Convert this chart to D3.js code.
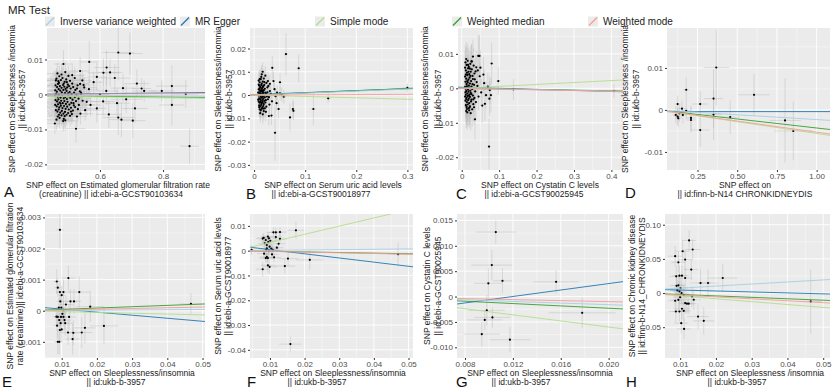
<!DOCTYPE html>
<html>
<head>
<meta charset="UTF-8">
<title>MR Test</title>
<script src="https://d3js.org/d3.v7.min.js"></script>
<style>
  body { margin: 0; background: #fff; }
  text { font-family: "Liberation Sans", Arial, sans-serif; }
</style>
</head>
<body>
<svg width="840" height="389"></svg>
<script>
// methods, in legend order
const methods = ["Inverse variance weighted", "MR Egger", "Simple mode", "Weighted median", "Weighted mode"];
const methodColors = ["#a6cee3", "#1f78b4", "#b2df8a", "#33a02c", "#fb9a99"];
// draw order of the fitted lines (egger, median, ivw, simple, mode)
const lineOrder = [1, 3, 0, 2, 4];

// each SNP: [beta exposure, beta outcome, se exposure, se outcome]
const snpA = [
  [0.462,0.0045,.03,.003],[0.468,0.0038,.04,.003],[0.471,0.0052,.03,.003],[0.476,0.0041,.05,.003],[0.481,0.0047,.04,.003],[0.488,0.0036,.03,.003],[0.493,0.0043,.05,.003],[0.505,0.0039,.04,.003],[0.512,0.0031,.05,.003],[0.498,0.0028,.03,.003],
  [0.459,0.0026,.03,.002],[0.464,0.0021,.04,.002],[0.467,0.0030,.03,.002],[0.473,0.0024,.04,.002],[0.478,0.0019,.03,.002],[0.483,0.0027,.05,.002],[0.487,0.0022,.04,.002],[0.491,0.0016,.03,.002],[0.496,0.0020,.04,.002],[0.502,0.0024,.05,.002],
  [0.507,0.0017,.03,.002],[0.515,0.0021,.04,.002],[0.522,0.0013,.05,.002],[0.529,0.0026,.03,.002],[0.536,0.0009,.04,.002],[0.458,0.0012,.03,.002],[0.463,0.0008,.04,.002],[0.469,0.0015,.03,.002],[0.474,0.0011,.04,.002],[0.479,0.0006,.03,.002],
  [0.484,0.0013,.04,.002],[0.489,0.0004,.03,.002],[0.494,0.0010,.05,.002],[0.499,0.0003,.04,.002],[0.504,0.0007,.03,.002],[0.510,0.0001,.04,.002],[0.518,0.0005,.03,.002],[0.526,-0.0002,.05,.002],[0.457,-0.0003,.03,.002],[0.461,0.0001,.04,.002],
  [0.466,-0.0006,.03,.002],[0.470,-0.0001,.04,.002],[0.475,-0.0009,.03,.002],[0.480,-0.0004,.04,.002],[0.485,-0.0011,.05,.002],[0.490,-0.0007,.03,.002],[0.495,-0.0013,.04,.002],[0.500,-0.0005,.03,.002],[0.506,-0.0010,.04,.002],[0.513,-0.0015,.05,.002],
  [0.520,-0.0008,.03,.002],[0.532,-0.0012,.04,.002],[0.459,-0.0016,.03,.002],[0.464,-0.0020,.04,.002],[0.468,-0.0014,.03,.002],[0.472,-0.0023,.04,.002],[0.477,-0.0018,.03,.002],[0.482,-0.0025,.05,.002],[0.487,-0.0019,.04,.002],[0.492,-0.0027,.03,.002],
  [0.497,-0.0021,.04,.002],[0.503,-0.0029,.03,.002],[0.509,-0.0024,.05,.002],[0.517,-0.0031,.04,.002],[0.524,-0.0019,.03,.002],[0.458,-0.0030,.03,.003],[0.463,-0.0034,.04,.003],[0.467,-0.0028,.03,.003],[0.471,-0.0037,.04,.003],[0.476,-0.0032,.03,.003],
  [0.481,-0.0039,.05,.003],[0.486,-0.0033,.04,.003],[0.491,-0.0041,.03,.003],[0.496,-0.0035,.04,.003],[0.501,-0.0043,.03,.003],[0.508,-0.0038,.05,.003],[0.514,-0.0046,.04,.003],[0.521,-0.0036,.03,.003],[0.530,-0.0042,.04,.003],[0.460,-0.0045,.03,.003],
  [0.465,-0.0049,.04,.003],[0.469,-0.0043,.03,.003],[0.474,-0.0052,.04,.003],[0.479,-0.0047,.03,.003],[0.484,-0.0055,.05,.003],[0.489,-0.0050,.04,.003],[0.494,-0.0058,.03,.003],[0.499,-0.0053,.04,.003],[0.505,-0.0061,.03,.003],[0.511,-0.0056,.05,.003],
  [0.466,-0.0063,.04,.003],[0.472,-0.0067,.03,.003],[0.478,-0.0060,.04,.003],[0.485,-0.0070,.03,.003],[0.462,-0.0072,.04,.003],[0.483,-0.0076,.05,.003],[0.465,0.0060,.04,.003],[0.478,0.0057,.03,.003],[0.490,0.0064,.04,.003],[0.500,0.0053,.05,.003],
  [0.470,0.0033,.03,.002],[0.485,0.0031,.04,.002],[0.475,-0.0026,.03,.002],[0.495,0.0035,.04,.002],[0.460,0.0040,.03,.003],[0.488,-0.0062,.03,.003],[0.470,-0.0058,.04,.003],[0.508,-0.0049,.03,.003],[0.516,-0.0025,.04,.002],[0.527,0.0017,.03,.002],
  [0.533,-0.0030,.05,.003],[0.540,0.0002,.04,.002],[0.545,-0.0018,.03,.002],[0.548,0.0027,.04,.002],[0.553,-0.0045,.05,.003],[0.538,-0.0055,.04,.003],[0.544,0.0040,.03,.003],[0.520,0.0047,.04,.003],[0.527,-0.0063,.03,.003],[0.512,0.0055,.04,.003],
  [0.658,0.012,.05,.008],[0.695,0.0117,.04,.006],[0.566,0.0093,.03,.006],[0.484,0.0087,.03,.004],[0.621,0.0077,.04,.005],[0.611,0.0062,.05,.004],[0.632,0.0063,.04,.004],[0.59,0.005,.03,.004],[0.647,0.0047,.05,.004],[0.717,0.0031,.04,.004],
  [0.732,0.0017,.03,.003],[0.796,0.001,.04,.003],[0.828,0.0024,.05,.006],[0.872,0.0001,.04,.004],[0.828,-0.003,.04,.006],[0.884,-0.0148,.03,.005],[0.524,-0.0098,.03,.004],[0.704,-0.0075,.04,.005],[0.658,-0.0066,.05,.005],[0.668,-0.0072,.04,.005],
  [0.628,-0.0057,.04,.004],[0.59,-0.004,.03,.004],[0.457,-0.0083,.03,.003],[0.49,-0.0074,.03,.003],[0.558,-0.0021,.04,.004],[0.683,-0.0014,.05,.004],[0.711,-0.004,.04,.004],[0.654,-0.0025,.04,.004],[0.6,0.0,.03,.004],[0.55,0.002,.04,.003],
  [0.537,0.003,.03,.003],[0.58,0.0035,.03,.003],[0.673,0.0018,.04,.004],[0.74,0.001,.04,.003],[0.537,0.0067,.03,.004],[0.54,0.0005,.03,.003],[0.57,-0.003,.03,.003],[0.61,-0.002,.04,.004],[0.565,0.0015,.03,.003],[0.62,0.001,.04,.004]
];
const snpB = [
  [0.009,0.0062,.003,.004],[0.011,0.0055,.003,.004],[0.013,0.0068,.002,.004],[0.015,0.0049,.003,.004],[0.017,0.0058,.003,.004],[0.020,0.0044,.004,.004],[0.024,0.0052,.003,.004],[0.028,0.0039,.004,.004],[0.010,0.0041,.002,.003],[0.012,0.0035,.003,.003],
  [0.014,0.0043,.002,.003],[0.016,0.0031,.003,.003],[0.018,0.0038,.003,.003],[0.021,0.0027,.004,.003],[0.026,0.0033,.003,.003],[0.009,0.0024,.002,.003],[0.011,0.0029,.003,.003],[0.013,0.0018,.002,.003],[0.015,0.0026,.003,.003],[0.017,0.0014,.003,.003],
  [0.019,0.0021,.003,.003],[0.022,0.0011,.004,.003],[0.031,0.0017,.003,.003],[0.010,0.0012,.002,.003],[0.012,0.0007,.002,.003],[0.014,0.0015,.003,.003],[0.016,0.0004,.003,.003],[0.018,0.0009,.003,.003],[0.020,0.0001,.003,.003],[0.023,0.0006,.004,.003],
  [0.009,-0.0002,.002,.003],[0.011,0.0002,.002,.003],[0.013,-0.0005,.003,.003],[0.015,-0.0001,.003,.003],[0.017,-0.0008,.003,.003],[0.019,-0.0003,.003,.003],[0.021,-0.0010,.004,.003],[0.025,-0.0006,.003,.003],[0.010,-0.0014,.002,.003],[0.012,-0.0019,.002,.003],
  [0.014,-0.0012,.003,.003],[0.016,-0.0022,.003,.003],[0.018,-0.0016,.003,.003],[0.020,-0.0025,.003,.003],[0.027,-0.0018,.004,.003],[0.009,-0.0028,.002,.003],[0.011,-0.0033,.002,.003],[0.013,-0.0026,.003,.003],[0.015,-0.0036,.003,.003],[0.017,-0.0030,.003,.003],
  [0.019,-0.0039,.003,.004],[0.022,-0.0032,.004,.004],[0.030,-0.0041,.003,.004],[0.010,-0.0044,.002,.004],[0.012,-0.0049,.003,.004],[0.014,-0.0042,.003,.004],[0.016,-0.0053,.003,.004],[0.018,-0.0047,.003,.004],[0.021,-0.0057,.004,.004],[0.024,-0.0050,.003,.004],
  [0.011,-0.0061,.002,.004],[0.013,-0.0066,.003,.004],[0.015,-0.0059,.003,.004],[0.019,-0.0069,.003,.004],[0.023,-0.0072,.004,.004],[0.012,-0.0078,.003,.004],[0.017,-0.0083,.003,.004],[0.014,0.0078,.003,.004],[0.019,0.0071,.003,.004],[0.022,0.0083,.003,.004],
  [0.008,0.0010,.002,.003],[0.008,-0.0020,.002,.003],[0.009,0.0045,.002,.003],[0.010,-0.0052,.002,.004],[0.012,0.0020,.002,.003],[0.013,0.0004,.002,.003],[0.014,-0.0032,.003,.003],[0.016,0.0019,.003,.003],[0.017,0.0035,.003,.003],[0.018,-0.0058,.003,.004],
  [0.020,0.0056,.003,.004],[0.023,-0.0022,.004,.003],[0.026,0.0012,.003,.003],[0.029,-0.0009,.004,.003],[0.033,0.0005,.003,.003],[0.035,-0.0027,.004,.003],[0.027,0.0060,.003,.004],[0.031,0.0048,.003,.004],[0.011,0.0068,.002,.004],[0.015,0.0089,.003,.004],
  [0.0624,0.0176,.004,.009],[0.0873,0.0115,.004,.006],[0.041,-0.0162,.003,.012],[0.3,0.0031,.01,.002],[0.145,-0.0014,.006,.002],[0.116,-0.006,.005,.007],[0.0703,-0.0096,.004,.006],[0.077,-0.0068,.004,.004],[0.076,-0.006,.004,.004],[0.0507,0.0007,.004,.003],
  [0.054,0.0003,.004,.003],[0.0507,0.0055,.004,.004],[0.0356,0.0117,.003,.005],[0.0168,0.01,.003,.004],[0.048,-0.006,.004,.004],[0.034,-0.0088,.003,.004],[0.029,-0.009,.003,.004],[0.058,-0.0007,.005,.003],[0.04,0.0025,.003,.003],[0.044,-0.0035,.004,.003],
  [0.038,0.006,.003,.004],[0.045,0.001,.004,.003],[0.042,-0.0005,.003,.003]
];
const snpC = [
  [0.010,0.0075,.003,.005],[0.013,0.0068,.004,.005],[0.016,0.0080,.003,.005],[0.019,0.0062,.004,.005],[0.023,0.0071,.004,.005],[0.027,0.0055,.005,.005],[0.032,0.0066,.004,.005],[0.037,0.0049,.005,.005],[0.011,0.0052,.003,.004],[0.014,0.0045,.003,.004],
  [0.017,0.0058,.004,.004],[0.020,0.0041,.004,.004],[0.024,0.0048,.004,.004],[0.029,0.0036,.005,.004],[0.034,0.0043,.004,.004],[0.009,0.0034,.003,.004],[0.012,0.0028,.003,.004],[0.015,0.0038,.003,.004],[0.018,0.0025,.004,.004],[0.021,0.0031,.004,.004],
  [0.025,0.0021,.004,.004],[0.030,0.0027,.005,.004],[0.040,0.0018,.005,.004],[0.010,0.0019,.003,.004],[0.013,0.0012,.003,.004],[0.016,0.0017,.003,.004],[0.019,0.0008,.004,.004],[0.022,0.0014,.004,.004],[0.026,0.0005,.004,.004],[0.033,0.0010,.005,.004],
  [0.009,0.0004,.003,.004],[0.011,-0.0001,.003,.004],[0.014,0.0006,.003,.004],[0.017,-0.0004,.003,.004],[0.020,0.0002,.004,.004],[0.023,-0.0007,.004,.004],[0.028,-0.0002,.004,.004],[0.036,-0.0009,.005,.004],[0.010,-0.0012,.003,.004],[0.012,-0.0008,.003,.004],
  [0.015,-0.0015,.003,.004],[0.018,-0.0010,.004,.004],[0.021,-0.0018,.004,.004],[0.024,-0.0013,.004,.004],[0.030,-0.0021,.005,.004],[0.009,-0.0024,.003,.004],[0.011,-0.0019,.003,.004],[0.013,-0.0027,.003,.004],[0.016,-0.0022,.003,.004],[0.019,-0.0030,.004,.004],
  [0.022,-0.0025,.004,.004],[0.026,-0.0033,.004,.004],[0.034,-0.0028,.005,.004],[0.010,-0.0036,.003,.005],[0.012,-0.0031,.003,.005],[0.014,-0.0040,.003,.005],[0.017,-0.0034,.004,.005],[0.020,-0.0043,.004,.005],[0.025,-0.0038,.004,.005],[0.031,-0.0046,.005,.005],
  [0.011,-0.0049,.003,.005],[0.013,-0.0054,.003,.005],[0.016,-0.0047,.003,.005],[0.018,-0.0058,.004,.005],[0.022,-0.0052,.004,.005],[0.028,-0.0061,.004,.005],[0.012,-0.0066,.003,.005],[0.015,-0.0070,.003,.005],[0.020,-0.0064,.004,.005],[0.024,-0.0072,.004,.005],
  [0.009,0.0060,.003,.005],[0.012,0.0085,.003,.005],[0.015,0.0021,.003,.004],[0.018,0.0048,.004,.004],[0.021,-0.0056,.004,.005],[0.023,0.0036,.004,.004],[0.026,-0.0017,.004,.004],[0.029,0.0012,.005,.004],[0.031,-0.0032,.005,.004],[0.035,0.0026,.005,.004],
  [0.038,-0.0040,.005,.005],[0.042,0.0007,.005,.004],[0.045,-0.0024,.006,.004],[0.048,0.0035,.006,.004],[0.052,-0.0012,.006,.004],[0.039,0.0061,.005,.005],[0.043,0.0052,.005,.005],[0.027,0.0078,.004,.005],[0.033,-0.0055,.005,.005],[0.014,-0.0060,.003,.005],
  [0.016,0.0001,.003,.004],[0.019,-0.0021,.004,.004],[0.022,0.0057,.004,.005],[0.011,0.0040,.003,.004],[0.017,0.0068,.004,.005],
  [0.073,-0.0169,.005,.008],[0.0355,-0.009,.004,.006],[0.08,0.0072,.005,.006],[0.0978,0.0021,.006,.004],[0.138,-0.0003,.008,.003],[0.407,-0.0008,.01,.002],[0.07,0.0005,.005,.004],[0.075,-0.0005,.005,.004],[0.074,-0.003,.005,.005],[0.055,-0.005,.005,.005],
  [0.0444,0.0094,.004,.006],[0.0474,0.0094,.004,.006],[0.03,0.0092,.004,.005],[0.026,0.0078,.004,.005],[0.06,0.0015,.005,.004],[0.065,-0.002,.005,.004],[0.078,-0.002,.005,.005],[0.058,0.004,.005,.005],[0.05,0.006,.005,.005],[0.062,-0.0045,.005,.005]
];
const snpD = [
  [0.368,0.0101,.08,.009],[0.179,0.0048,.02,.003],[0.351,0.0027,.06,.007],[0.606,0.0036,.1,.005],[0.125,0.0014,.02,.002],[0.267,0.0014,.05,.003],[0.152,0.0003,.03,.002],[0.179,-0.0002,.03,.002],[0.137,-0.0008,.02,.002],[0.158,-0.0012,.02,.002],
  [0.125,-0.0016,.02,.002],[0.129,-0.002,.02,.002],[0.113,-0.0012,.02,.002],[0.209,-0.0019,.03,.003],[0.209,-0.0024,.03,.003],[0.351,-0.0011,.05,.006],[0.456,-0.0017,.06,.004],[0.267,-0.0048,.06,.004],[0.801,-0.0025,.1,.01],[0.853,-0.005,.12,.007]
];
const snpE = [
  [0.0095,0.0026,.001,.0006],[0.0086,0.00094,.001,.0004],[0.0119,0.00105,.002,.0004],[0.0089,0.00074,.001,.0003],[0.0095,0.0006,.001,.0003],[0.0100,0.0005,.001,.0003],[0.0105,0.0006,.002,.0004],[0.015,0.0006,.003,.0005],[0.0125,0.0003,.002,.0004],[0.0135,0.0003,.002,.0004],
  [0.0096,0.0003,.001,.0003],[0.0099,0.0001,.001,.0003],[0.0105,0.0,.001,.0003],[0.0102,-0.0001,.001,.0003],[0.0098,-0.0002,.001,.0003],[0.0181,0.00013,.004,.0005],[0.0467,0.00022,.0033,.00035],[0.0085,-0.00019,.001,.0003],[0.0089,-0.0002,.001,.0003],[0.0093,-0.0003,.001,.0003],
  [0.0105,-0.0002,.002,.0003],[0.0108,-0.0003,.002,.0003],[0.0087,-0.00048,.001,.0004],[0.0095,-0.00062,.001,.0004],[0.010,-0.0006,.001,.0004],[0.0118,-0.0007,.002,.0004],[0.0166,-0.00055,.003,.0005],[0.0220,-0.00049,.004,.0006],[0.0157,-0.0007,.003,.0005],[0.0133,-0.00071,.002,.0004],
  [0.0131,-0.00091,.002,.0005],[0.0089,-0.001,.001,.0004],[0.0093,-0.001,.001,.0004],[0.0110,-0.0004,.002,.0004],[0.0092,0.0001,.001,.0003],[0.0097,-0.0004,.001,.0003],[0.0112,0.0002,.002,.0003],[0.0121,-0.0002,.002,.0004]
];
const snpF = [
  [0.0175,0.0082,.0024,.0035],[0.0129,0.0075,.002,.002],[0.0117,0.0074,.002,.002],[0.011,0.0074,.002,.002],[0.0117,0.0055,.002,.002],[0.0129,0.0048,.002,.002],[0.0079,0.0049,.002,.002],[0.0082,0.0052,.002,.002],[0.0088,0.0043,.002,.002],[0.0094,0.0057,.002,.002],
  [0.0097,0.0050,.002,.002],[0.0101,0.0040,.002,.002],[0.0085,0.0030,.002,.002],[0.0091,0.0023,.002,.002],[0.0099,0.0016,.002,.002],[0.0091,0.0009,.002,.002],[0.0089,0.0003,.002,.002],[0.0104,0.0008,.002,.002],[0.0108,0.0003,.002,.002],[0.0097,-0.0002,.002,.002],
  [0.0047,0.0003,.001,.002],[0.0091,-0.0025,.002,.002],[0.0088,-0.0030,.002,.002],[0.0094,-0.0030,.002,.002],[0.0112,-0.0027,.002,.002],[0.0152,-0.0032,.003,.003],[0.0215,-0.0037,.004,.004],[0.0079,-0.0075,.002,.003],[0.0094,-0.0059,.002,.003],[0.0099,-0.0065,.002,.003],
  [0.0143,-0.0062,.003,.003],[0.0470,-0.0014,.003,.0048],[0.0159,-0.0377,.0033,.003],[0.0120,0.0012,.002,.002],[0.0083,-0.0012,.002,.002],[0.0106,-0.0015,.002,.002],[0.0125,0.0028,.002,.002],[0.0095,0.0035,.002,.002]
];
const snpG = [
  [0.01057,0.0127,.0017,.0023],[0.01024,0.0062,.0017,.003],[0.01113,0.0031,.0008,.0025],[0.00995,0.0026,.0012,.003],[0.01561,0.0029,.0019,.0023],[0.00982,-0.0027,.0015,.003],
  [0.01779,-0.0032,.0028,.003],[0.00965,-0.0046,.0015,.002],[0.01029,-0.0041,.0015,.002],[0.0094,-0.0074,.0015,.0025],[0.01175,-0.0085,.0017,.0025]
];
const snpH = [
  [0.0125,0.077,.002,.015],[0.0135,0.0637,.002,.015],[0.0107,0.0612,.002,.015],[0.0086,0.0539,.002,.015],[0.0114,0.049,.002,.015],[0.0095,0.045,.002,.015],[0.0131,0.0343,.002,.015],[0.0105,0.0254,.002,.015],[0.0089,0.0245,.002,.015],[0.0098,0.0254,.002,.015],
  [0.0114,0.022,.002,.015],[0.0219,0.022,.004,.02],[0.0157,0.0147,.003,.02],[0.0178,0.0147,.003,.02],[0.0095,0.0113,.002,.015],[0.0101,0.0074,.002,.015],[0.0092,0.0039,.002,.015],[0.0098,0.0025,.002,.015],[0.0104,0.0,.002,.015],[0.0053,0.0,.001,.01],
  [0.0110,-0.0025,.002,.015],[0.0133,-0.005,.002,.015],[0.0138,-0.0098,.002,.015],[0.0086,-0.0113,.002,.015],[0.0095,-0.010,.002,.015],[0.0114,-0.0147,.002,.015],[0.0119,-0.0156,.002,.015],[0.0124,-0.0156,.002,.015],[0.0105,-0.023,.002,.015],[0.0110,-0.026,.002,.015],
  [0.0088,-0.027,.002,.015],[0.0098,-0.027,.002,.015],[0.0150,-0.0344,.003,.02],[0.0166,-0.0407,.003,.02],[0.0103,-0.0441,.002,.015],[0.0111,-0.0525,.002,.015],[0.0465,-0.0123,.003,.047],[0.0090,0.0105,.002,.015],[0.0100,-0.0060,.002,.015]
];

// fitted lines per panel, in method order (IVW, Egger, simple, w.median, w.mode)
const interceptA = [0, -0.0003, 0, 0, 0],       slopeA = [-0.0005, 0.0009, -0.0012, -0.0009, 0.0002];
const interceptB = [0, 0.0002, 0, 0, 0],        slopeB = [0.0085, 0.0085, -0.006, 0.0093, 0.001];
const interceptC = [0, 0.0003, 0, 0, 0],        slopeC = [-0.002, -0.003, 0.0056, -0.0018, -0.0022];
const interceptD = [0, -0.0004, 0, 0, 0],       slopeD = [-0.0023, 0, -0.0056, -0.0043, -0.0053];
const interceptE = [0, 0.00015, 0, 0, 0],       slopeE = [0.0008, -0.0098, -0.0027, 0.0043, 0.0024];
const interceptF = [0, 0.0021, 0, 0, 0],        slopeF = [0.014, -0.168, 0.33, -0.025, -0.028];
const interceptG = [0, -0.0038, 0, 0, 0],       slopeG = [-0.08, 0.318, -0.3, -0.115, -0.05];
const interceptH = [0.0042, 0.0058, 0, 0, 0],   slopeH = [0.3, -0.14, -0.42, -0.21, -0.283];

// ticks
const xTicksA = [0.6, 0.8], xLabA = ["0.6", "0.8"];
const yTicksA = [-0.02, -0.01, 0, 0.01], yLabA = ["-0.02", "-0.01", "0", "0.01"];
const xTicksB = [0, 0.1, 0.2, 0.3], xLabB = ["0", "0.1", "0.2", "0.3"];
const yTicksB = [-0.03, -0.02, -0.01, 0, 0.01, 0.02], yLabB = ["-0.03", "-0.02", "-0.01", "0", "0.01", "0.02"];
const xTicksC = [0, 0.1, 0.2, 0.3, 0.4], xLabC = ["0", "0.1", "0.2", "0.3", "0.4"];
const yTicksC = [-0.02, -0.01, 0, 0.01], yLabC = ["-0.02", "-0.01", "0", "0.01"];
const xTicksD = [0.25, 0.5, 0.75, 1.0], xLabD = ["0.25", "0.50", "0.75", "1.00"];
const yTicksD = [-0.01, 0, 0.01], yLabD = ["-0.01", "0", "0.01"];
const xTicksE = [0.01, 0.02, 0.03, 0.04, 0.05], xLabE = ["0.01", "0.02", "0.03", "0.04", "0.05"];
const yTicksE = [-0.001, 0, 0.001, 0.002, 0.003], yLabE = ["-0.001", "0", "0.001", "0.002", "0.003"];
const xTicksF = [0.01, 0.02, 0.03, 0.04, 0.05], xLabF = ["0.01", "0.02", "0.03", "0.04", "0.05"];
const yTicksF = [-0.04, -0.03, -0.02, -0.01, 0, 0.01], yLabF = ["-0.04", "-0.03", "-0.02", "-0.01", "0", "0.01"];
const xTicksG = [0.008, 0.012, 0.016, 0.020], xLabG = ["0.008", "0.012", "0.016", "0.020"];
const yTicksG = [-0.010, -0.005, 0, 0.005, 0.010, 0.015], yLabG = ["-0.010", "-0.005", "0", "0.005", "0.010", "0.015"];
const xTicksH = [0.01, 0.02, 0.03, 0.04, 0.05], xLabH = ["0.01", "0.02", "0.03", "0.04", "0.05"];
const yTicksH = [-0.05, 0, 0.05, 0.10], yLabH = ["-0.05", "0", "0.05", "0.10"];

const sleepTitle = ["SNP effect on Sleeplessness/insomnia", "|| id:ukb-b-3957"];

const panels = [
  { tag: "A", snp: snpA, a: interceptA, b: slopeA, xt: xTicksA, xl: xLabA, yt: yTicksA, yl: yLabA,
    xd: [0.432, 0.933], yd: [-0.0216, 0.019], box: [47, 205, 28, 170],
    xTitle: ["SNP effect on Estimated glomerular filtration rate", "(creatinine)  || id:ebi-a-GCST90103634"], xTitleX: [118, 111],
    yTitle: ["SNP effect on Sleeplessness /insomnia", "|| id:ukb-b-3957"], yTitleX: [12, 22], tagPos: [4, 197] },
  { tag: "B", snp: snpB, a: interceptB, b: slopeB, xt: xTicksB, xl: xLabB, yt: yTicksB, yl: yLabB,
    xd: [-0.008, 0.311], yd: [-0.0322, 0.0288], box: [250, 413, 28, 170],
    xTitle: ["SNP effect on Serum uric acid levels", "|| id:ebi-a-GCST90018977"], xTitleX: [333, 321],
    yTitle: sleepTitle, yTitleX: [218, 229], tagPos: [246, 199] },
  { tag: "C", snp: snpC, a: interceptC, b: slopeC, xt: xTicksC, xl: xLabC, yt: yTicksC, yl: yLabC,
    xd: [-0.0099, 0.431], yd: [-0.0237, 0.0175], box: [458, 623, 28, 170],
    xTitle: ["SNP effect on Cystatin C levels", "|| id:ebi-a-GCST90025945"], xTitleX: [540, 534],
    yTitle: sleepTitle, yTitleX: [425, 438], tagPos: [456, 199] },
  { tag: "D", snp: snpD, a: interceptD, b: slopeD, xt: xTicksD, xl: xLabD, yt: yTicksD, yl: yLabD,
    xd: [0.058, 1.084], yd: [-0.0143, 0.0195], box: [667, 830, 28, 170],
    xTitle: ["SNP effect on", "|| id:finn-b-N14 CHRONKIDNEYDIS"], xTitleX: [745, 745],
    yTitle: ["SNP effect on Sleeplessness /insomnia", "|| id:ukb-b-3957"], yTitleX: [625, 636], tagPos: [625, 198] },
  { tag: "E", snp: snpE, a: interceptE, b: slopeE, xt: xTicksE, xl: xLabE, yt: yTicksE, yl: yLabE,
    xd: [0.00526, 0.0507], yd: [-0.00152, 0.00311], box: [45, 205, 214, 358],
    xTitle: sleepTitle, xTitleX: [122, 116],
    yTitle: ["SNP effect on Estimated glomerular filtration", "rate (creatinine)|| id:ebi-a-GCST90103634"], yTitleX: [10, 20], tagPos: [2, 387] },
  { tag: "F", snp: snpF, a: interceptF, b: slopeF, xt: xTicksF, xl: xLabF, yt: yTicksF, yl: yLabF,
    xd: [0.00424, 0.0513], yd: [-0.0433, 0.0148], box: [250, 413, 214, 358],
    xTitle: sleepTitle, xTitleX: [333, 317],
    yTitle: ["SNP effect on Serum uric acid levels", "|| id:ebi-a-GCST90018977"], yTitleX: [218, 228], tagPos: [247, 387] },
  { tag: "G", snp: snpG, a: interceptG, b: slopeG, xt: xTicksG, xl: xLabG, yt: yTicksG, yl: yLabG,
    xd: [0.00733, 0.0212], yd: [-0.0121, 0.01626], box: [457, 623, 214, 358],
    xTitle: sleepTitle, xTitleX: [540, 521],
    yTitle: ["SNP effect on Cystatin C levels", "|| id:ebi-a-GCST90025945"], yTitleX: [427, 438], tagPos: [456, 387] },
  { tag: "H", snp: snpH, a: interceptH, b: slopeH, xt: xTicksH, xl: xLabH, yt: yTicksH, yl: yLabH,
    xd: [0.00576, 0.0519], yd: [-0.0951, 0.1157], box: [665, 830, 214, 358],
    xTitle: ["SNP effect on Sleeplessness /insomnia", "|| id:ukb-b-3957"], xTitleX: [750, 737],
    yTitle: ["SNP effect on Chronic kidney disease", "|| id:finn-b-N14_CHRONKIDNEYDIS"], yTitleX: [632, 642], tagPos: [626, 387] }
];

const titleSize = 8.5, tickSize = 8;

const svg = d3.select("svg");
svg.append("rect").attr("width", 840).attr("height", 389).attr("fill", "#fff");

// title
svg.append("text").attr("x", 8).attr("y", 14).attr("font-size", 11.5).attr("fill", "#222").text("MR Test");

// legend
const legX = [45, 180, 315, 452, 588];
methods.forEach(function (m, i) {
  const g = svg.append("g").attr("transform", "translate(" + legX[i] + ",16.5)");
  g.append("rect").attr("width", 10).attr("height", 10).attr("fill", "#ebebeb");
  g.append("line").attr("x1", 1).attr("y1", 9).attr("x2", 9).attr("y2", 1)
    .attr("stroke", methodColors[i]).attr("stroke-width", 1.2);
  g.append("text").attr("x", 15).attr("y", 5).attr("dy", "0.35em")
    .attr("font-size", 10).attr("fill", "#222").text(m);
});

// minor breaks: midpoints between majors, extended one step each way
function minors(ticks, dom) {
  const step = ticks.length > 1 ? ticks[1] - ticks[0] : 0.1;
  const ext = [ticks[0] - step].concat(ticks, [ticks[ticks.length - 1] + step]);
  const out = [];
  for (let i = 0; i < ext.length - 1; i++) out.push((ext[i] + ext[i + 1]) / 2);
  return out.filter(v => v >= dom[0] && v <= dom[1]);
}

panels.forEach(function (p, k) {
  const [x0, x1, y0, y1] = p.box;
  const x = d3.scaleLinear().domain(p.xd).range([x0, x1]);
  const y = d3.scaleLinear().domain(p.yd).range([y1, y0]);
  const g = svg.append("g");

  const clipId = "clip" + p.tag;
  g.append("clipPath").attr("id", clipId).append("rect")
    .attr("x", x0).attr("y", y0).attr("width", x1 - x0).attr("height", y1 - y0);

  g.append("rect").attr("x", x0).attr("y", y0).attr("width", x1 - x0).attr("height", y1 - y0)
    .attr("fill", "#ebebeb");

  // grid
  const grid = g.append("g").attr("stroke", "#fff");
  grid.selectAll(".vmin").data(minors(p.xt, p.xd)).enter().append("line")
    .attr("x1", d => x(d)).attr("x2", d => x(d)).attr("y1", y0).attr("y2", y1).attr("stroke-width", 0.4);
  grid.selectAll(".hmin").data(minors(p.yt, p.yd)).enter().append("line")
    .attr("y1", d => y(d)).attr("y2", d => y(d)).attr("x1", x0).attr("x2", x1).attr("stroke-width", 0.4);
  grid.selectAll(".vmaj").data(p.xt).enter().append("line")
    .attr("x1", d => x(d)).attr("x2", d => x(d)).attr("y1", y0).attr("y2", y1).attr("stroke-width", 0.9);
  grid.selectAll(".hmaj").data(p.yt).enter().append("line")
    .attr("y1", d => y(d)).attr("y2", d => y(d)).attr("x1", x0).attr("x2", x1).attr("stroke-width", 0.9);

  const plot = g.append("g").attr("clip-path", "url(#" + clipId + ")");

  // error bars
  const bars = plot.append("g").attr("stroke", "#b5b5b5").attr("stroke-width", 0.5).attr("stroke-opacity", 0.8);
  bars.selectAll(".ev").data(p.snp).enter().append("line")
    .attr("x1", d => x(d[0])).attr("x2", d => x(d[0]))
    .attr("y1", d => y(d[1] - d[3])).attr("y2", d => y(d[1] + d[3]));
  bars.selectAll(".eh").data(p.snp).enter().append("line")
    .attr("y1", d => y(d[1])).attr("y2", d => y(d[1]))
    .attr("x1", d => x(d[0] - d[2])).attr("x2", d => x(d[0] + d[2]));

  // points
  plot.append("g").selectAll("circle").data(p.snp).enter().append("circle")
    .attr("cx", d => x(d[0])).attr("cy", d => y(d[1])).attr("r", 1.1).attr("fill", "#000");

  // fitted MR lines
  plot.append("g").selectAll("line").data(lineOrder).enter().append("line")
    .attr("x1", x0).attr("x2", x1)
    .attr("y1", i => y(p.a[i] + p.b[i] * p.xd[0]))
    .attr("y2", i => y(p.a[i] + p.b[i] * p.xd[1]))
    .attr("stroke", i => methodColors[i]).attr("stroke-width", 0.9);

  // axes
  const xAxis = g.append("g").attr("transform", "translate(0," + y1 + ")")
    .call(d3.axisBottom(x).tickValues(p.xt).tickFormat((d, i) => p.xl[i]).tickSize(2).tickPadding(1.5));
  const yAxis = g.append("g").attr("transform", "translate(" + x0 + ",0)")
    .call(d3.axisLeft(y).tickValues(p.yt).tickFormat((d, i) => p.yl[i]).tickSize(2).tickPadding(2));
  [xAxis, yAxis].forEach(function (ax) {
    ax.select(".domain").remove();
    ax.selectAll(".tick line").attr("stroke", "#333");
    ax.selectAll(".tick text").attr("fill", "#4d4d4d").attr("font-size", tickSize)
      .attr("font-family", "Liberation Sans, Arial, sans-serif");
  });

  // axis titles
  p.xTitle.forEach(function (t, i) {
    g.append("text").attr("x", p.xTitleX[i]).attr("y", y1 + 15.5 + i * 9).attr("dy", "0.35em")
      .attr("text-anchor", "middle").attr("font-size", titleSize).attr("fill", "#222").text(t);
  });
  const cy = (y0 + y1) / 2;
  p.yTitle.forEach(function (t, i) {
    g.append("text").attr("transform", "translate(" + p.yTitleX[i] + "," + cy + ") rotate(-90)")
      .attr("dy", "0.35em").attr("text-anchor", "middle").attr("font-size", titleSize).attr("fill", "#222").text(t);
  });

  // panel tag
  g.append("text").attr("x", p.tagPos[0]).attr("y", p.tagPos[1]).attr("font-size", 15)
    .attr("fill", "#111").text(p.tag);
});
</script>
</body>
</html>
